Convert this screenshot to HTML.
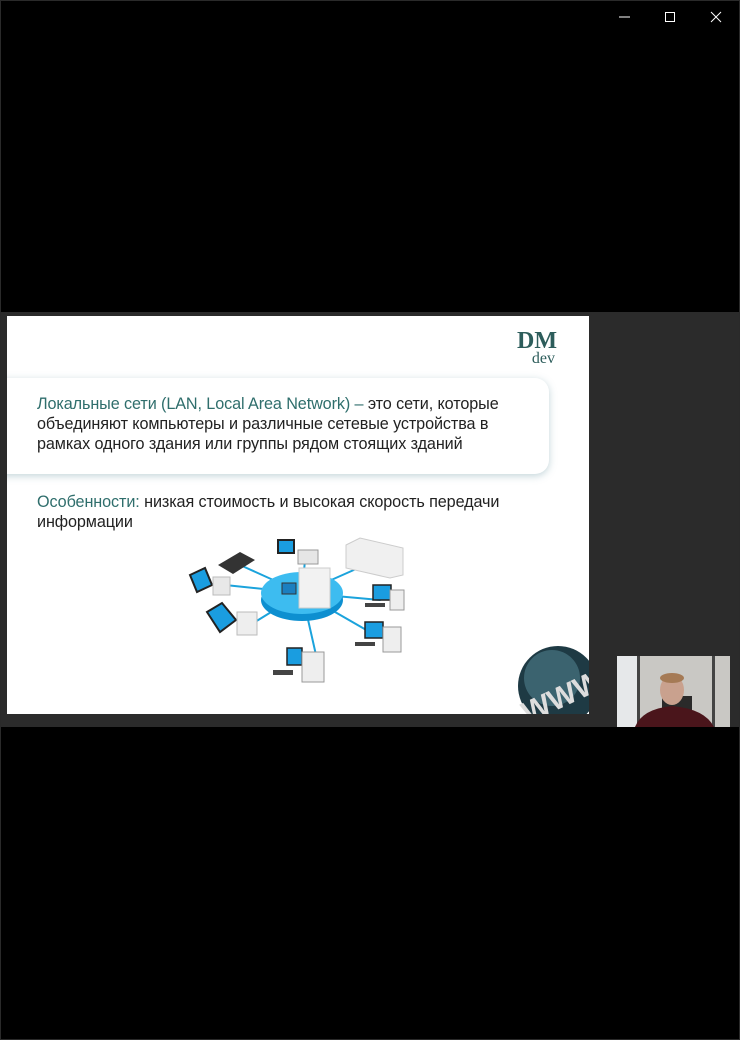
<!DOCTYPE html>
<html><head><meta charset="utf-8"><style>
body{margin:0;width:740px;height:1040px;background:#000;position:relative;overflow:hidden;font-family:"Liberation Sans","Noto Sans CJK SC",sans-serif}
.frame{position:absolute;left:0;top:0;width:738px;height:1038px;border:1px solid #2a2a2a}
.grey{position:absolute;left:1px;top:312px;width:738px;height:415px;background:#2b2b2b}
.slide{position:absolute;left:7px;top:316px;width:582px;height:398px;background:#fff;overflow:hidden}
.box{position:absolute;left:-20px;top:62px;width:562px;height:96px;border-radius:14px;background:#fff;box-shadow:0 2px 8px rgba(120,160,170,.45)}
.t{position:absolute;font-size:16.2px;color:#222;white-space:nowrap;letter-spacing:-0.1px}
.c{color:#2f6e6c}
.logo{position:absolute;left:510px;top:15px;font-family:"Liberation Serif",serif;color:#2d5d5b;font-weight:bold;text-align:right}
</style></head><body>
<div class="frame"></div>
<svg style="position:absolute;left:0;top:0" width="740" height="40">
<line x1="619" y1="17" x2="630" y2="17" stroke="#fff" stroke-width="1"/>
<rect x="665.5" y="12.5" width="9" height="9" fill="none" stroke="#fff"/>
<line x1="711" y1="12" x2="721" y2="22" stroke="#fff"/><line x1="721" y1="12" x2="711" y2="22" stroke="#fff"/>
</svg>
<div class="grey"></div>
<div class="slide">
 <div class="logo"><div style="font-size:24px;line-height:21px">DM</div><div style="font-size:16px;line-height:14px;font-weight:normal;margin-right:2px">dev</div></div>
 <div class="box"></div>
 <div class="t" style="left:30px;top:79px"><span class="c">Локальные сети (LAN, Local Area Network) –</span> это сети, которые</div>
 <div class="t" style="left:30px;top:99px">объединяют компьютеры и различные сетевые устройства в</div>
 <div class="t" style="left:30px;top:119px">рамках одного здания или группы рядом стоящих зданий</div>
 <div class="t" style="left:30px;top:177px"><span class="c">Особенности:</span> низкая стоимость и высокая скорость передачи</div>
 <div class="t" style="left:30px;top:197px">информации</div>
 <svg style="position:absolute;left:0;top:0" width="582" height="398">
  <g transform="translate(-7,-316)" stroke-linecap="round">
   <g stroke="#1ba3dc" stroke-width="2">
    <line x1="302" y1="593" x2="240" y2="565"/><line x1="302" y1="593" x2="225" y2="585"/>
    <line x1="302" y1="593" x2="255" y2="622"/><line x1="302" y1="593" x2="305" y2="560"/>
    <line x1="302" y1="593" x2="365" y2="565"/><line x1="302" y1="593" x2="380" y2="600"/>
    <line x1="302" y1="593" x2="375" y2="635"/><line x1="302" y1="593" x2="316" y2="655"/>
   </g>
   <ellipse cx="302" cy="600" rx="41" ry="21" fill="#0d8fd0"/>
   <ellipse cx="302" cy="593" rx="41" ry="21" fill="#3dbcf0"/>
   <rect x="299" y="568" width="31" height="40" fill="#f2f2f2" stroke="#ccc"/>
   <rect x="282" y="583" width="14" height="11" fill="#1b7fc0" stroke="#333"/>
   <polygon points="218,565 240,552 255,560 233,574" fill="#333"/>
   <polygon points="190,575 205,568 212,585 197,592" fill="#1a9de0" stroke="#222" stroke-width="2"/>
   <rect x="213" y="577" width="17" height="18" fill="#e8e8e8" stroke="#bbb"/>
   <polygon points="207,612 222,603 236,620 220,632" fill="#1a9de0" stroke="#222" stroke-width="2"/>
   <rect x="237" y="612" width="20" height="23" fill="#eee" stroke="#bbb"/>
   <rect x="278" y="540" width="16" height="13" fill="#1a9de0" stroke="#222" stroke-width="2"/>
   <rect x="298" y="550" width="20" height="14" fill="#e6e6e6" stroke="#999"/>
   <polygon points="346,545 360,538 403,548 403,575 390,578 346,568" fill="#f0f0f0" stroke="#ccc"/>
   <rect x="373" y="585" width="18" height="15" fill="#1a9de0" stroke="#222" stroke-width="1.5"/>
   <rect x="390" y="590" width="14" height="20" fill="#eee" stroke="#999"/>
   <rect x="365" y="603" width="20" height="4" fill="#444"/>
   <rect x="365" y="622" width="18" height="16" fill="#1a9de0" stroke="#222" stroke-width="1.5"/>
   <rect x="383" y="627" width="18" height="25" fill="#eee" stroke="#999"/>
   <rect x="355" y="642" width="20" height="4" fill="#444"/>
   <rect x="287" y="648" width="15" height="17" fill="#1a9de0" stroke="#222" stroke-width="1.5"/>
   <rect x="302" y="652" width="22" height="30" fill="#eee" stroke="#999"/>
   <rect x="273" y="670" width="20" height="5" fill="#444"/>
   <circle cx="558" cy="686" r="40" fill="#1e3a44"/>
   <circle cx="552" cy="678" r="28" fill="#4f7f8c" opacity=".6"/>
   <text x="520" y="712" font-family="Liberation Sans" font-weight="bold" font-size="30" fill="#ddd" transform="rotate(-25 550 700)">WWW</text>
  </g>
 </svg>
</div>
<svg style="position:absolute;left:617px;top:656px" width="113" height="71">
 <rect width="113" height="71" fill="#c9c8c4"/>
 <rect x="0" y="0" width="20" height="71" fill="#e6e8ea"/>
 <rect x="20" y="0" width="3" height="71" fill="#444"/>
 <rect x="95" y="0" width="3" height="71" fill="#444"/>
 <rect x="45" y="40" width="30" height="25" fill="#2a2a2a"/>
 <ellipse cx="55" cy="34" rx="12" ry="15" fill="#c9a18e"/>
 <ellipse cx="55" cy="22" rx="12" ry="5" fill="#a57a55"/>
 <path d="M18 71 Q25 53 55 50 Q88 53 97 71Z" fill="#4a151b"/>
</svg>
</body></html>
